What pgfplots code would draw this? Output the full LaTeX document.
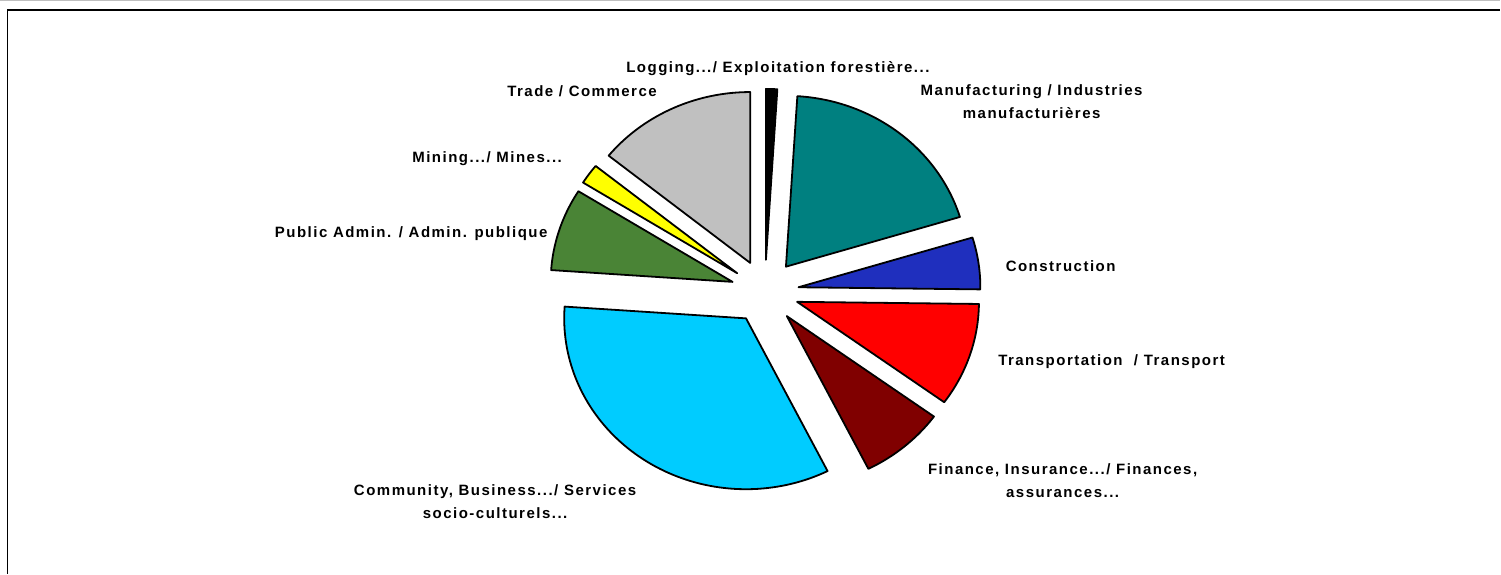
\documentclass[border=0pt]{standalone}
\usepackage{pgfplots}
\pgfplotsset{compat=1.18}
\usepackage{pgfplotstable}
\usepackage{fontspec}
\setmainfont{Liberation Sans}[LetterSpace=10]
\definecolor{pieteal}{RGB}{0,128,128}
\definecolor{pieblue}{RGB}{31,47,190}
\definecolor{piered}{RGB}{255,0,0}
\definecolor{piedarkred}{RGB}{128,0,0}
\definecolor{piecyan}{RGB}{0,204,255}
\definecolor{piegreen}{RGB}{74,132,54}
\definecolor{pieyellow}{RGB}{255,255,0}
\definecolor{piegray}{RGB}{192,192,192}
\definecolor{pieblack}{RGB}{0,0,0}

% share of each sector, in percent, clockwise from 12 o'clock
\pgfplotstableread[col sep=comma]{
value,color
1.0,pieblack
19.3,pieteal
4.9,pieblue
9.8,piered
7.6,piedarkred
33.5,piecyan
7.8,piegreen
1.9,pieyellow
14.2,piegray
}\piedata

\begin{document}
\begin{tikzpicture}
\begin{axis}[width=1501pt,height=574pt,scale only axis,
  xmin=0,xmax=1501,ymin=0,ymax=574,y dir=reverse,
  hide axis,clip=false]
\path (axis cs:0,0) rectangle (axis cs:1501,574);
\draw[gray!50,line width=1pt] (axis cs:0,1) -- (axis cs:1501,1);
\draw[black,line width=1.5pt] (axis cs:7,574) -- (axis cs:7,10) -- (axis cs:1501,10);
\gdef\cum{0}
\pgfplotsinvokeforeach{0,...,8}{
  \pgfplotstablegetelem{#1}{value}\of\piedata \let\val\pgfplotsretval
  \pgfplotstablegetelem{#1}{color}\of\piedata \let\col\pgfplotsretval
  \pgfmathsetmacro\a{\cum*3.6}
  \pgfmathsetmacro\b{(\cum+\val)*3.6}
  \pgfmathsetmacro\m{(\a+\b)/2}
  \pgfmathsetmacro\vx{765+34*sin(\m)}
  \pgfmathsetmacro\vy{292-32*cos(\m)}
  \edef\doslice{\noexpand\addplot[draw=black,line width=1.8pt,line join=round,fill=\col,
     domain=\a:\b,samples=80,variable=\noexpand\t]
     ({\vx+182*sin(\noexpand\t)},{\vy-171*cos(\noexpand\t)}) -- (axis cs:\vx,\vy) -- cycle;}
  \doslice
  \pgfmathsetmacro\newcum{\cum+\val}
  \global\let\cum\newcum
}
\tikzset{lab/.style={font=\fontsize{15}{23}\selectfont\bfseries,align=center,inner sep=0pt}}
\node[lab] at (axis cs:778,69) {Logging.../ Exploitation forestière...};
\node[lab] at (axis cs:582,91) {Trade / Commerce};
\node[lab] at (axis cs:1032,101.5) {Manufacturing / Industries\\manufacturières};
\node[lab] at (axis cs:487,159) {Mining.../ Mines...};
\node[lab] at (axis cs:411,234) {Public Admin. / Admin. publique};
\node[lab] at (axis cs:1061,266) {Construction};
\node[lab] at (axis cs:1112,362) {Transportation~~/ Transport};
\node[lab] at (axis cs:1063,481.5) {Finance, Insurance.../ Finances,\\assurances...};
\node[lab] at (axis cs:495,502) {Community, Business.../ Services\\socio-culturels...};
\end{axis}
\end{tikzpicture}
\end{document}
